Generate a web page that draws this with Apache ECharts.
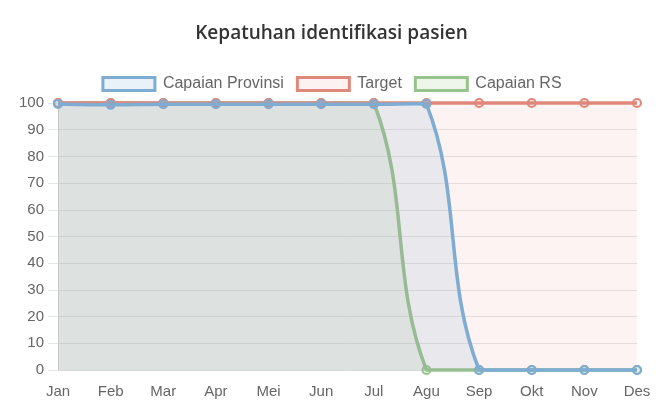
<!DOCTYPE html>
<html>
<head>
<meta charset="UTF-8">
<title>Kepatuhan identifikasi pasien</title>
<script src="https://cdn.jsdelivr.net/npm/echarts@6/dist/echarts.min.js"></script>
<style>
  html, body { margin: 0; padding: 0; background: #fff; }
  #chart { width: 663px; height: 412px; }
</style>
</head>
<body>
<div id="chart"></div>
<script>
  var bulan = ['Jan', 'Feb', 'Mar', 'Apr', 'Mei', 'Jun', 'Jul', 'Agu', 'Sep', 'Okt', 'Nov', 'Des'];
  var capaianProvinsi = [99.6, 99.3, 99.5, 99.5, 99.5, 99.5, 99.5, 99.6, 0, 0, 0, 0];
  var target = [100, 100, 100, 100, 100, 100, 100, 100, 100, 100, 100, 100];
  var capaianRS = [100, 100, 100, 100, 100, 100, 100, 0, 0, 0, 0, 0];

  var blue = '#7eacd3', red = '#e0877b', green = '#96c38c';
  var blueFill = 'rgba(126,172,211,0.15)', redFill = 'rgba(224,135,123,0.1)', greenFill = 'rgba(150,195,140,0.16)';
  var tension = 0.4;

  // titik kontrol bezier gaya Chart.js (dibatasi ke area grafik)
  function kontrol(prev, cur, next, cs) {
    var d01 = Math.hypot(cur[0] - prev[0], cur[1] - prev[1]);
    var d12 = Math.hypot(next[0] - cur[0], next[1] - cur[1]);
    var s01 = d01 / (d01 + d12) || 0;
    var s12 = d12 / (d01 + d12) || 0;
    var fa = tension * s01, fb = tension * s12;
    var vx = next[0] - prev[0], vy = next[1] - prev[1];
    function cap(p) {
      return [Math.min(Math.max(p[0], cs.x), cs.x + cs.width), Math.min(Math.max(p[1], cs.y), cs.y + cs.height)];
    }
    return {
      prev: cap([cur[0] - fa * vx, cur[1] - fa * vy]),
      next: cap([cur[0] + fb * vx, cur[1] + fb * vy])
    };
  }

  function garis(nama, values, warna, isi, z) {
    return {
      name: nama,
      type: 'custom',
      z: z,
      data: values.map(function (v, i) { return [i, v]; }),
      encode: { x: 0, y: 1 },
      renderItem: function (params, api) {
        var i = params.dataIndex;
        var cs = params.coordSys;
        var pts = values.map(function (v, j) { return api.coord([j, v]); });
        var cur = pts[i];
        var children = [];
        if (i === 0) {
          var n = pts.length;
          var d = 'M' + pts[0][0] + ' ' + pts[0][1];
          for (var k = 0; k < n - 1; k++) {
            var a = pts[k], b = pts[k + 1];
            var c1 = kontrol(k > 0 ? pts[k - 1] : a, a, b, cs).next;
            var c2 = kontrol(a, b, k + 2 < n ? pts[k + 2] : b, cs).prev;
            d += ' C' + c1[0] + ' ' + c1[1] + ' ' + c2[0] + ' ' + c2[1] + ' ' + b[0] + ' ' + b[1];
          }
          var y0 = api.coord([0, 0])[1];
          children.push({
            type: 'path',
            shape: { pathData: d + ' L' + pts[n - 1][0] + ' ' + y0 + ' L' + pts[0][0] + ' ' + y0 + ' Z' },
            style: { fill: isi, stroke: null }
          });
          children.push({
            type: 'path',
            shape: { pathData: d },
            style: { fill: null, stroke: warna, lineWidth: 3.5, lineJoin: 'round' }
          });
        }
        children.push({
          type: 'circle',
          shape: { cx: cur[0], cy: cur[1], r: 4 },
          style: { fill: isi, stroke: warna, lineWidth: 2 }
        });
        return { type: 'group', children: children };
      }
    };
  }

  var myChart = echarts.init(document.getElementById('chart'));
  var option = {
    animation: false,
    title: {
      text: 'Kepatuhan identifikasi pasien',
      left: 'center',
      top: 19,
      textStyle: { fontFamily: 'Open Sans', fontSize: 19, fontWeight: 600, color: '#333' }
    },
    legend: {
      top: 71,
      left: 'center',
      icon: 'rect',
      itemWidth: 52,
      itemHeight: 13,
      itemGap: 12,
      textStyle: { fontFamily: 'Liberation Sans', fontSize: 16, color: '#666', padding: [0, 0, 0, 3] },
      data: [
        { name: 'Capaian Provinsi', itemStyle: { color: '#eaf2f9', borderColor: blue, borderWidth: 3 } },
        { name: 'Target', itemStyle: { color: '#fcf2f1', borderColor: red, borderWidth: 3 } },
        { name: 'Capaian RS', itemStyle: { color: '#eef6ec', borderColor: green, borderWidth: 3 } }
      ]
    },
    grid: { left: 58, right: 26, top: 103, bottom: 42 },
    xAxis: {
      type: 'category',
      boundaryGap: false,
      data: bulan,
      axisLine: { lineStyle: { color: '#d9d9d9' } },
      axisTick: { show: false },
      axisLabel: { fontFamily: 'Liberation Sans', fontSize: 15, color: '#666', margin: 14 },
      splitLine: { show: false }
    },
    yAxis: {
      type: 'value',
      min: 0,
      max: 100,
      interval: 10,
      axisLine: { show: true, lineStyle: { color: '#d9d9d9' } },
      axisTick: { show: true, length: 10, lineStyle: { color: '#e6e6e6' } },
      axisLabel: { fontFamily: 'Liberation Sans', fontSize: 15, color: '#666', margin: 14 },
      splitLine: { lineStyle: { color: '#e6e6e6' } }
    },
    series: [
      garis('Capaian Provinsi', capaianProvinsi, blue, blueFill, 4),
      garis('Target', target, red, redFill, 3),
      garis('Capaian RS', capaianRS, green, greenFill, 2)
    ]
  };
  myChart.setOption(option);
</script>
</body>
</html>
